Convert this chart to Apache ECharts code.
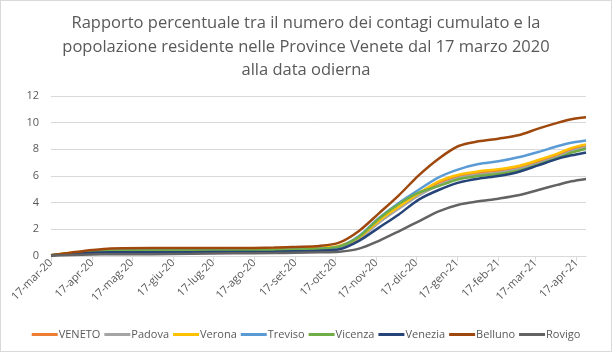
<!DOCTYPE html>
<html>
<head>
<meta charset="utf-8">
<script src="https://cdn.jsdelivr.net/npm/echarts@6/dist/echarts.min.js"></script>
<style>
  html, body { margin: 0; padding: 0; background: #fff; }
  #chart { width: 612px; height: 352px; box-sizing: border-box; border: 1px solid #d9d9d9; }
</style>
</head>
<body>
<div id="chart"></div>
<script>
// date di campionamento
const dates = ['2020-03-17', '2020-04-01', '2020-04-17', '2020-05-01', '2020-06-01', '2020-07-01',
  '2020-08-01', '2020-09-01', '2020-09-17', '2020-10-05', '2020-10-20', '2020-11-04', '2020-11-19',
  '2020-12-04', '2020-12-19', '2021-01-03', '2021-01-18', '2021-02-02', '2021-02-17', '2021-03-04',
  '2021-03-19', '2021-04-03', '2021-04-13', '2021-04-24']

const veneto = [0.05, 0.22, 0.38, 0.44, 0.45, 0.45, 0.46, 0.48, 0.52, 0.58, 0.72, 1.35, 2.6, 3.65, 4.65, 5.5, 6.0, 6.25, 6.4, 6.6, 7.05, 7.55, 7.95, 8.25]
const padova = [0.05, 0.2, 0.36, 0.42, 0.43, 0.43, 0.44, 0.46, 0.5, 0.55, 0.7, 1.3, 2.5, 3.55, 4.55, 5.3, 5.85, 6.1, 6.25, 6.5, 6.95, 7.45, 7.85, 8.15]
const verona = [0.05, 0.25, 0.4, 0.47, 0.48, 0.48, 0.48, 0.5, 0.55, 0.62, 0.75, 1.4, 2.65, 3.7, 4.7, 5.6, 6.1, 6.35, 6.5, 6.75, 7.2, 7.7, 8.1, 8.37]
const treviso = [0.05, 0.2, 0.35, 0.42, 0.43, 0.43, 0.44, 0.45, 0.48, 0.55, 0.7, 1.5, 2.85, 3.98, 4.97, 5.9, 6.5, 6.9, 7.1, 7.4, 7.8, 8.25, 8.5, 8.67]
const vicenza = [0.05, 0.18, 0.33, 0.4, 0.41, 0.41, 0.42, 0.44, 0.48, 0.55, 0.7, 1.45, 2.8, 3.9, 4.75, 5.25, 5.75, 6.0, 6.15, 6.4, 6.85, 7.35, 7.75, 8.05]
const venezia = [0.04, 0.15, 0.25, 0.28, 0.29, 0.29, 0.3, 0.32, 0.35, 0.4, 0.5, 1.14, 2.13, 3.12, 4.23, 4.95, 5.5, 5.8, 6.0, 6.3, 6.8, 7.3, 7.55, 7.77]
const belluno = [0.05, 0.25, 0.45, 0.57, 0.6, 0.6, 0.6, 0.63, 0.68, 0.75, 1.0, 1.88, 3.2, 4.55, 6.05, 7.3, 8.25, 8.6, 8.8, 9.05, 9.55, 10.0, 10.25, 10.4]
const rovigo = [0.03, 0.08, 0.12, 0.13, 0.14, 0.16, 0.2, 0.22, 0.25, 0.28, 0.32, 0.55, 1.14, 1.85, 2.6, 3.35, 3.85, 4.1, 4.3, 4.55, 4.95, 5.35, 5.6, 5.78]

// etichette dell'asse x (il 17 di ogni mese)
const tickDates = ['2020-03-17', '2020-04-17', '2020-05-17', '2020-06-17', '2020-07-17', '2020-08-17',
  '2020-09-17', '2020-10-17', '2020-11-17', '2020-12-17', '2021-01-17', '2021-02-17', '2021-03-17', '2021-04-17']
const mesi = ['gen', 'feb', 'mar', 'apr', 'mag', 'giu', 'lug', 'ago', 'set', 'ott', 'nov', 'dic']

const seriesNames = ['VENETO', 'Padova', 'Verona', 'Treviso', 'Vicenza', 'Venezia', 'Belluno', 'Rovigo']
const seriesValues = [veneto, padova, verona, treviso, vicenza, venezia, belluno, rovigo]
const colors = ['#ED7D31', '#A5A5A5', '#FFC000', '#5B9BD5', '#70AD47', '#264478', '#9E480E', '#636363']

const font = "'Open Sans', sans-serif"

function parseDate(s) {
  const p = s.split('-')
  return new Date(+p[0], +p[1] - 1, +p[2]).getTime()
}

const chart = echarts.init(document.getElementById('chart'))

const option = {
  animation: false,
  color: colors,
  title: {
    text: 'Rapporto percentuale tra il numero dei contagi cumulato e la\npopolazione residente nelle Province Venete dal 17 marzo 2020\nalla data odierna',
    left: 'center',
    top: 6,
    textStyle: {
      fontFamily: font,
      fontSize: 16.5,
      fontWeight: 'normal',
      color: '#595959',
      lineHeight: 23.5
    }
  },
  legend: {
    bottom: 6,
    left: 'center',
    itemWidth: 26,
    itemHeight: 3,
    itemGap: 4,
    icon: 'rect',
    textStyle: {fontFamily: font, fontSize: 11, color: '#595959', padding: [0, 0, 0, -4]},
    data: seriesNames
  },
  grid: {
    left: 50,
    right: 25,
    top: 95,
    bottom: 95,
    containLabel: false
  },
  xAxis: {
    type: 'value',
    min: parseDate('2020-03-17'),
    max: parseDate('2021-04-24'),
    axisLine: {show: true, lineStyle: {color: '#d9d9d9'}},
    axisTick: {
      show: true,
      length: 5,
      lineStyle: {color: '#d9d9d9'},
      customValues: tickDates.map(parseDate)
    },
    splitLine: {show: false},
    axisLabel: {
      rotate: 45,
      fontFamily: font,
      fontSize: 11,
      color: '#595959',
      margin: 5,
      customValues: tickDates.map(parseDate),
      formatter: function (value) {
        const d = new Date(value)
        return d.getDate() + '-' + mesi[d.getMonth()] + '-' + String(d.getFullYear()).slice(2)
      }
    }
  },
  yAxis: {
    type: 'value',
    min: 0,
    max: 12,
    interval: 2,
    axisLine: {show: false},
    axisTick: {show: false},
    splitLine: {lineStyle: {color: '#d9d9d9'}},
    axisLabel: {fontFamily: font, fontSize: 11, color: '#595959', margin: 12}
  },
  series: seriesNames.map((name, i) => ({
    name: name,
    type: 'line',
    showSymbol: false,
    smooth: 0.3,
    lineStyle: {width: 2.5},
    data: dates.map((d, j) => [parseDate(d), seriesValues[i][j]])
  }))
}

chart.setOption(option)
</script>
</body>
</html>
